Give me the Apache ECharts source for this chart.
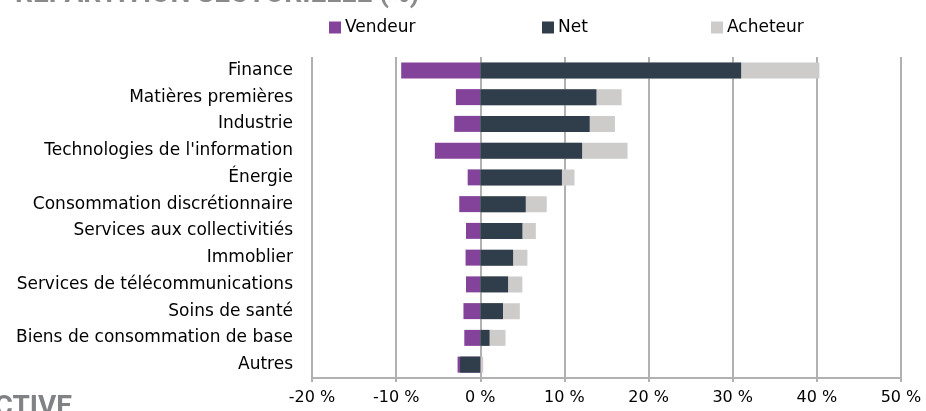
<!DOCTYPE html>
<html>
<head>
<meta charset="utf-8">
<script src="https://cdn.jsdelivr.net/npm/echarts@6/dist/echarts.min.js"></script>
<style>
  html, body { margin: 0; padding: 0; background: #fff; }
  #chart { width: 926px; height: 411px; }
</style>
</head>
<body>
<div id="chart"></div>
<script>
var categories = ['Finance', 'Matières premières', 'Industrie', "Technologies de l'information", 'Énergie',
    'Consommation discrétionnaire', 'Services aux collectivitiés', 'Immoblier',
    'Services de télécommunications', 'Soins de santé', 'Biens de consommation de base', 'Autres'];
var vendeur = [-9.4, -2.9, -3.1, -5.4, -1.5, -2.5, -1.7, -1.75, -1.7, -2.0, -1.9, -2.7];
var net = [31.0, 13.8, 13.0, 12.1, 9.7, 5.4, 5.0, 3.9, 3.3, 2.7, 1.1, -2.4];
var acheteur = [40.3, 16.8, 16.0, 17.5, 11.2, 7.9, 6.6, 5.6, 5.0, 4.7, 3.0, 0.35];
var xTicks = [-20, -10, 0, 10, 20, 30, 40, 50];

var chart = echarts.init(document.getElementById('chart'));
var font = 'DejaVu Sans';

function legendAt(name, x) {
    return {
        data: [name], left: x, top: 19, padding: 0, itemWidth: 12, itemHeight: 12, itemGap: 4, icon: 'rect',
        textStyle: { fontFamily: font, fontSize: 17, color: '#000', padding: [0, 0, 0, -1] }
    };
}

var option = {
    animation: false,
    graphic: [
        { type: 'text', x: 15, y: 9, style: { text: 'RÉPARTITION SECTORIELLE (%)', font: 'bold 28px Roboto', fill: '#8a8a8d', verticalAlign: 'bottom' } },
        { type: 'text', right: 854, top: 394, style: { text: 'PERSPECTIVE', font: 'bold 28px Roboto', fill: '#808285' } }
    ],
    legend: [legendAt('Vendeur', 329), legendAt('Net', 542), legendAt('Acheteur', 711)],
    grid: { left: 312, right: 25, top: 57, bottom: 33 },
    xAxis: {
        type: 'value', min: xTicks[0], max: xTicks[xTicks.length - 1], interval: 10,
        axisLine: { show: true, lineStyle: { color: '#b3b0b3', width: 2 } },
        axisTick: { show: true, length: 4, lineStyle: { color: '#b3b0b3', width: 2 } },
        splitLine: { show: true, lineStyle: { color: '#b3b0b3', width: 2 } },
        axisLabel: { formatter: '{value} %', fontFamily: font, fontSize: 16, color: '#000', margin: 12 }
    },
    yAxis: {
        type: 'category', data: categories, inverse: true,
        axisLine: { show: false }, axisTick: { show: false },
        axisLabel: { fontFamily: font, fontSize: 17, color: '#000', margin: 19 }
    },
    series: [
        { name: 'Acheteur', type: 'bar', data: acheteur, barWidth: 16, barGap: '-100%', itemStyle: { color: '#cdcccb' } },
        { name: 'Vendeur', type: 'bar', data: vendeur, barWidth: 16, barGap: '-100%', itemStyle: { color: '#84439a' } },
        { name: 'Net', type: 'bar', data: net, barWidth: 16, barGap: '-100%', itemStyle: { color: '#2f3e4a' } }
    ]
};
chart.setOption(option);
</script>
</body>
</html>
